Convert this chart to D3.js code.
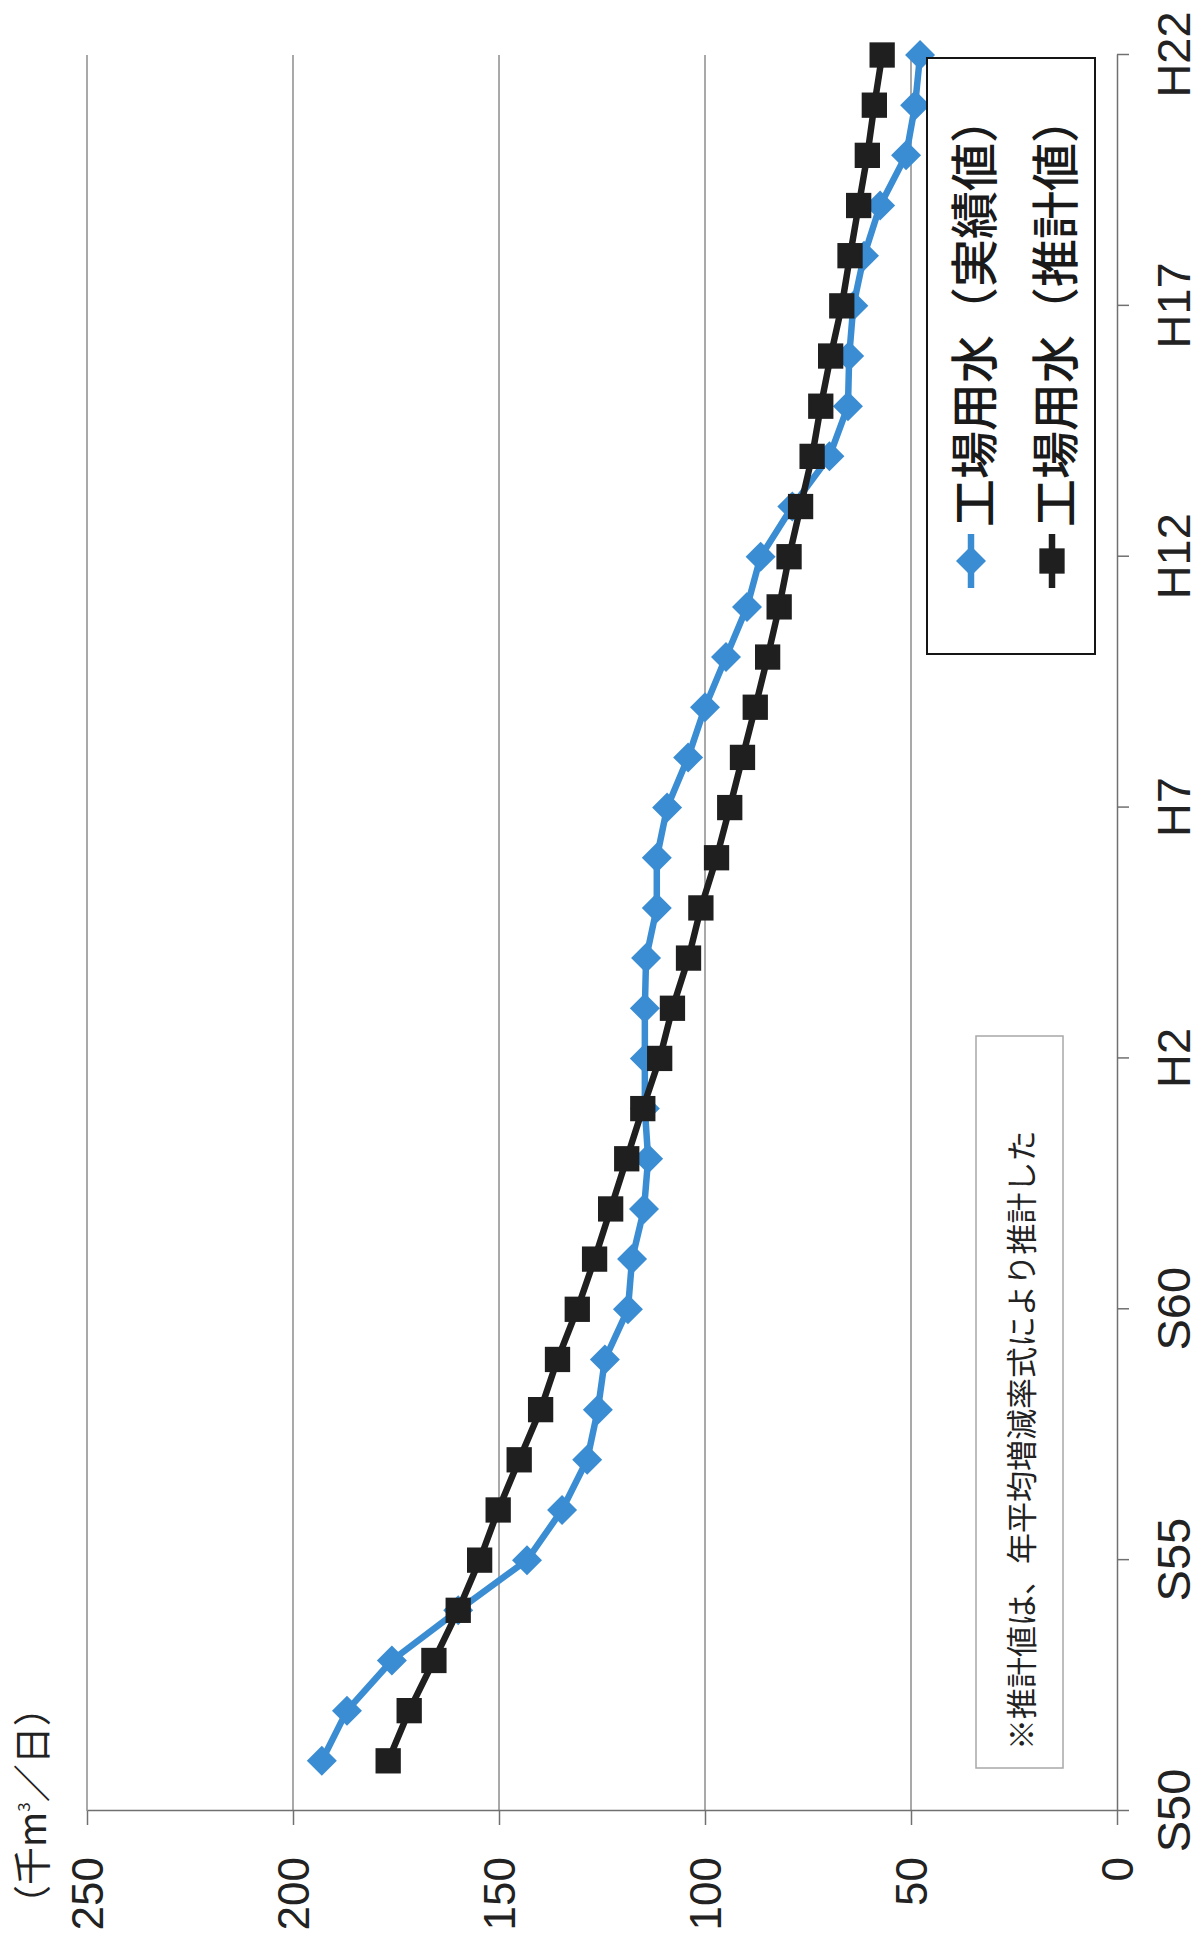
<!DOCTYPE html>
<html>
<head>
<meta charset="utf-8">
<script src="https://cdn.jsdelivr.net/npm/d3@7"></script>
<style>
  html, body { margin: 0; padding: 0; background: #fff; }
  svg { display: block; }
</style>
</head>
<body>
<svg id="chart" width="1203" height="1935"></svg>
<script>
// Industrial water use (thousand m³/day), S51 (1976) to H22 (2010)
const years = [1976, 1977, 1978, 1979, 1980, 1981, 1982, 1983, 1984, 1985,
               1986, 1987, 1988, 1989, 1990, 1991, 1992, 1993, 1994, 1995,
               1996, 1997, 1998, 1999, 2000, 2001, 2002, 2003, 2004, 2005,
               2006, 2007, 2008, 2009, 2010];

// 工場用水（実績値）
const actual = [193.0, 186.9, 176.0, 159.9, 143.2, 134.7, 128.6, 126.0, 124.3, 118.7,
                117.7, 114.8, 113.8, 114.6, 114.6, 114.6, 114.3, 111.7, 111.7, 109.2,
                104.1, 100.0, 94.9, 89.8, 86.5, 78.8, 69.8, 65.3, 65.0, 64.0,
                61.4, 57.5, 51.2, 49.0, 47.8];

// 工場用水（推計値）
const estimate = [176.9, 171.8, 165.8, 159.9, 154.7, 150.2, 145.1, 139.9, 135.8, 131.0,
                  126.8, 122.9, 119.0, 115.1, 111.0, 107.9, 104.0, 101.0, 97.2, 94.0,
                  90.9, 87.8, 84.8, 82.0, 79.6, 76.8, 74.0, 71.9, 69.5, 66.8,
                  64.8, 62.7, 60.6, 58.9, 57.0];

const seriesNames = ["工場用水（実績値）", "工場用水（推計値）"];

// Era-year tick marks on the year axis
const tickYears = [1975, 1980, 1985, 1990, 1995, 2000, 2005, 2010];
const tickLabels = ["S50", "S55", "S60", "H2", "H7", "H12", "H17", "H22"];

const valueTicks = [0, 50, 100, 150, 200, 250];
const unitLabel = "（千m";
const unitSup = "3";
const unitTail = "／日）";
const noteText = "※推計値は、年平均増減率式により推計した";

// The chart is laid out in a landscape frame and turned a quarter turn
// counter-clockwise onto the portrait page.
const PAGE_W = 1203, PAGE_H = 1935;
const svg = d3.select("#chart");
const g = svg.append("g")
  .attr("transform", `translate(0,${PAGE_H}) rotate(-90)`);

const x = d3.scaleLinear().domain([1975, 2010]).range([124, 1880]);
const y = d3.scaleLinear().domain([0, 250]).range([1117, 87]);

const gridColor = "#858585";
const blue = "#3b8dd3";
const dark = "#1f1f1f";
const latin = "'Liberation Sans', Arial, sans-serif";
const cjk = "'Noto Sans CJK JP', 'Noto Sans', sans-serif";

// Horizontal gridlines
g.append("g")
  .selectAll("line")
  .data(valueTicks.filter(v => v > 0))
  .join("line")
  .attr("x1", x(1975)).attr("x2", x(2010))
  .attr("y1", d => y(d)).attr("y2", d => y(d))
  .attr("stroke", gridColor).attr("stroke-width", 1.4);

// Year axis
const xAxis = g.append("g")
  .attr("transform", `translate(0,${y(0)})`)
  .call(d3.axisBottom(x)
    .tickValues(tickYears)
    .tickFormat((d, i) => tickLabels[i])
    .tickSize(12)
    .tickSizeOuter(0));
xAxis.select(".domain").attr("stroke", "#707070").attr("stroke-width", 1.5);
xAxis.selectAll(".tick line").attr("stroke", "#707070").attr("stroke-width", 1.5);
xAxis.selectAll(".tick text")
  .attr("y", 73).attr("dy", 0)
  .attr("fill", "#222")
  .style("font-family", latin)
  .style("font-size", "47px");

// Value axis
const yAxis = g.append("g")
  .attr("transform", `translate(${x(1975)},0)`)
  .call(d3.axisLeft(y)
    .tickValues(valueTicks)
    .tickSize(14)
    .tickSizeOuter(0));
yAxis.select(".domain").attr("stroke", "#707070").attr("stroke-width", 1.5);
yAxis.selectAll(".tick line").attr("stroke", "#707070").attr("stroke-width", 1.5);
yAxis.selectAll(".tick text")
  .attr("x", -46).attr("dy", "0.36em")
  .attr("fill", "#222")
  .style("font-family", latin)
  .style("font-size", "44px");

// Unit label
const unit = g.append("text")
  .attr("x", 12).attr("y", 46)
  .attr("fill", "#222")
  .style("font-family", cjk)
  .style("font-size", "38px");
unit.append("tspan").text(unitLabel);
unit.append("tspan").attr("dy", -16).style("font-size", "17px").text(unitSup);
unit.append("tspan").attr("dy", 16).text(unitTail);

// Series
const line = d3.line()
  .x((d, i) => x(years[i]))
  .y(d => y(d));

const diamond = d3.symbol().type(d3.symbolSquare).size(450);
const square = d3.symbol().type(d3.symbolSquare).size(640);

g.append("path")
  .datum(actual)
  .attr("d", line)
  .attr("fill", "none")
  .attr("stroke", blue)
  .attr("stroke-width", 6.5)
  .attr("stroke-linejoin", "round");
g.append("g")
  .selectAll("path")
  .data(actual)
  .join("path")
  .attr("d", diamond)
  .attr("transform", (d, i) => `translate(${x(years[i])},${y(d)}) rotate(45)`)
  .attr("fill", blue);

g.append("path")
  .datum(estimate)
  .attr("d", line)
  .attr("fill", "none")
  .attr("stroke", dark)
  .attr("stroke-width", 6.5)
  .attr("stroke-linejoin", "round");
g.append("g")
  .selectAll("path")
  .data(estimate)
  .join("path")
  .attr("d", square)
  .attr("transform", (d, i) => `translate(${x(years[i])},${y(d)})`)
  .attr("fill", dark);

// Legend
const legend = g.append("g");
legend.append("rect")
  .attr("x", 1281).attr("y", 927)
  .attr("width", 596).attr("height", 168)
  .attr("fill", "#fff")
  .attr("stroke", "#151515").attr("stroke-width", 2);

const legendRows = [
  { name: seriesNames[0], color: blue, sym: diamond, rot: 45, cy: 971 },
  { name: seriesNames[1], color: dark, sym: square, rot: 0, cy: 1052 }
];
legendRows.forEach(r => {
  legend.append("line")
    .attr("x1", 1347).attr("x2", 1401)
    .attr("y1", r.cy).attr("y2", r.cy)
    .attr("stroke", r.color).attr("stroke-width", 6.5);
  legend.append("path")
    .attr("d", r.sym)
    .attr("transform", `translate(1374,${r.cy}) rotate(${r.rot})`)
    .attr("fill", r.color);
  legend.append("text")
    .attr("x", 1408).attr("y", r.cy)
    .attr("dominant-baseline", "central")
    .attr("fill", "#1a1a1a")
    .style("font-family", cjk)
    .style("font-weight", 500)
    .style("font-size", "48px")
    .text(r.name);
});

// Note box
const note = g.append("g");
note.append("rect")
  .attr("x", 167).attr("y", 976)
  .attr("width", 732).attr("height", 87)
  .attr("fill", "#fff")
  .attr("stroke", "#a8a8a8").attr("stroke-width", 1.5);
note.append("text")
  .attr("x", 185).attr("y", 1019)
  .attr("dominant-baseline", "central")
  .attr("fill", "#222")
  .style("font-family", cjk)
  .style("font-size", "31px")
  .text(noteText);
</script>
</body>
</html>
